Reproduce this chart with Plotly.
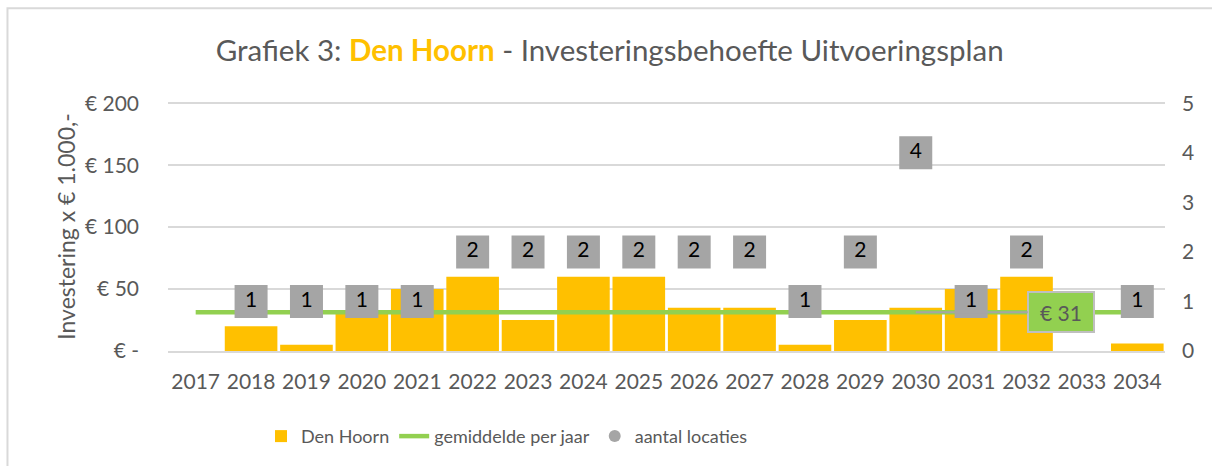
import plotly.graph_objects as go

years = list(range(2017, 2035))
investering = [0, 20, 5, 30, 50, 60, 25, 60, 60, 35, 35, 5, 25, 35, 50, 60, 0, 6]
gemiddelde = [31.2] * 18
loc_years = [2018, 2019, 2020, 2021, 2022, 2023, 2024, 2025, 2026,
             2027, 2028, 2029, 2030, 2031, 2032, 2034]
aantal_locaties = [1, 1, 1, 1, 2, 2, 2, 2, 2, 2, 1, 2, 4, 1, 2, 1]
gem_label = "€ 31"
gem_label_year = 2030
y_tickvals = [0, 50, 100, 150, 200]
y_ticktext = ["€ -", "€ 50", "€ 100", "€ 150", "€ 200"]

FONT = "Lato"
GREY = "#595959"

fig = go.Figure()
fig.add_trace(go.Bar(x=years, y=investering, name="Den Hoorn",
                     marker=dict(color="#FFC000", line=dict(width=0))))
fig.add_trace(go.Scatter(x=years, y=gemiddelde, name="gemiddelde per jaar", mode="lines",
                         line=dict(color="#92D050", width=4.5)))
fig.add_trace(go.Scatter(x=loc_years, y=aantal_locaties, yaxis="y2", mode="markers+text",
                         text=[str(v) for v in aantal_locaties], textposition="middle center",
                         textfont=dict(family=FONT, size=21, color="#000000"),
                         marker=dict(symbol="square", size=33, color="#A5A5A5"),
                         showlegend=False, hoverinfo="skip"))
fig.add_trace(go.Scatter(x=[years[0]], y=[None], yaxis="y2", mode="markers", name="aantal locaties",
                         marker=dict(symbol="circle", size=12, color="#A5A5A5")))

fig.add_annotation(x=gem_label_year, y=gemiddelde[0], xref="x", yref="y", text=gem_label,
                   showarrow=True, arrowhead=0, arrowwidth=2, arrowcolor="#A5A5A5",
                   ax=145, ay=0, bgcolor="#92D050", bordercolor="#BFBFBF", borderwidth=2,
                   width=62, height=36, font=dict(family=FONT, size=21, color=GREY))

fig.add_shape(type="rect", xref="paper", yref="paper", x0=-0.161, x1=1.2, y0=-0.6, y1=1.377,
              line=dict(color="#D9D9D9", width=2), fillcolor="rgba(0,0,0,0)", layer="below")

fig.update_layout(
    width=1212, height=466,
    margin=dict(l=168, r=47, t=102, b=115, autoexpand=False),
    paper_bgcolor="white", plot_bgcolor="white",
    bargap=0.05,
    font=dict(family=FONT, color=GREY),
    title=dict(text="Grafiek 3: <b><span style='color:#FFC000'>Den Hoorn</span></b> - Investeringsbehoefte Uitvoeringsplan",
               x=0.503, xanchor="center", xref="container", y=1 - 51 / 466, yanchor="middle",
               yref="container", font=dict(family=FONT, size=29.5, color=GREY)),
    xaxis=dict(range=[2016.5, 2034.5], tickmode="array", tickvals=years,
               tickfont=dict(family=FONT, size=21, color=GREY), showgrid=False,
               showline=True, linecolor="#D9D9D9", linewidth=1.5, ticks="", ticklabelstandoff=11),
    yaxis=dict(range=[0, 201], tickvals=y_tickvals, ticktext=y_ticktext,
               tickfont=dict(family=FONT, size=21, color=GREY),
               gridcolor="#D9D9D9", gridwidth=1.5, zeroline=False, ticklabelstandoff=28,
               title=dict(text="Investering x € 1.000,-", font=dict(family=FONT, size=23, color=GREY),
                          standoff=2)),
    yaxis2=dict(range=[0, 5.025], tickvals=[0, 1, 2, 3, 4, 5], overlaying="y", side="right",
                showgrid=False, zeroline=False, tickfont=dict(family=FONT, size=21, color=GREY),
                ticklabelstandoff=16),
    legend=dict(orientation="h", x=0.34, xanchor="center", y=-0.343, yanchor="middle",
                font=dict(family=FONT, size=18, color=GREY), traceorder="normal"),
    showlegend=True,
)

fig.write_html("out.html", config={"displayModeBar": False},
               post_script="document.body.style.margin='0';")
